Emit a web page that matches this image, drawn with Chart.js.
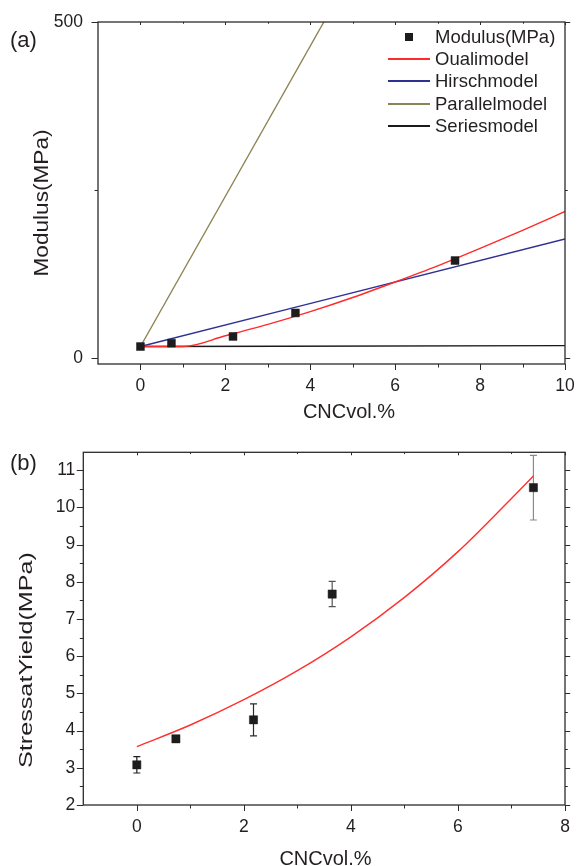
<!DOCTYPE html>
<html>
<head>
<meta charset="utf-8">
<script src="https://cdn.jsdelivr.net/npm/chart.js@4.4.1/dist/chart.umd.min.js"></script>
<style>
  body { margin: 0; background: #fff; }
  #wrap { position: relative; width: 579px; height: 866px; overflow: hidden; }
  #chartA { position: absolute; left: 0; top: 0; }
  #chartB { position: absolute; left: 0; top: 430px; }
  #legend-container {
    position: absolute; left: 388px; top: 25.5px;
    font-family: 'Liberation Sans', Arial, sans-serif; font-size: 18.5px; color: #231f20;
  }
  .legend-item { display: flex; align-items: center; height: 22.3px; }
  .legend-swatch { position: relative; width: 42px; height: 22px; }
  .legend-line { position: absolute; left: 0; right: 0; top: 10px; height: 2px; }
  .legend-square { position: absolute; left: 17px; top: 7px; width: 8px; height: 8px; }
  .legend-label { margin-left: 5px; white-space: nowrap; }
</style>
</head>
<body>
<div id="wrap">
  <canvas id="chartA" width="579" height="430"></canvas>
  <canvas id="chartB" width="579" height="436"></canvas>
  <div id="legend-container"></div>
</div>
<script>
// (a) modulus vs CNC content
const cncA = [0, 0.73, 2.18, 3.65, 7.41];
const modulus = [17, 22, 32, 67, 145];
const oualiX = [0, 1, 2, 3, 4, 5, 6, 7, 8, 9, 10];
const oualiY = [17, 17, 33, 50, 69, 90, 113, 137, 163, 190, 218];
const hirschX = [0, 10];
const hirschY = [17, 177];
const parallelX = [0, 4.32];
const parallelY = [17, 500];
const seriesX = [0, 10];
const seriesY = [17, 18.3];
const xTicksA = [0, 2, 4, 6, 8, 10];
const xMinorA = [1, 3, 5, 7, 9];
const yTicksA = [0, 500];
const yMinorA = [250];

// (b) stress at yield
const cncB = [0, 0.73, 2.18, 3.65, 7.41];
const stress = [3.08, 3.78, 4.29, 7.67, 10.53];
const stressErr = [0.22, 0.04, 0.43, 0.34, 0.87];
const fitX = [0, 1, 2, 3, 4, 5, 6, 7, 7.41];
const fitY = [3.57, 4.15, 4.83, 5.61, 6.52, 7.58, 8.81, 10.24, 10.84];
const xTicksB = [0, 2, 4, 6, 8];
const xMinorB = [1, 3, 5, 7];
const yTicksB = [2, 3, 4, 5, 6, 7, 8, 9, 10, 11];
const yMinorB = [2.5, 3.5, 4.5, 5.5, 6.5, 7.5, 8.5, 9.5, 10.5];

const FONT = "'Liberation Sans', Arial, sans-serif";
const INK = '#231f20';

const pts = (xs, ys) => xs.map((x, i) => ({ x: x, y: ys[i] }));

// frame with Origin-like ticks on all four sides
function makeFrame(xMajor, xMinor, yMajor, yMinor) {
    return {
        id: 'frame',
        afterDraw(chart) {
            const { ctx, chartArea: a, scales: { x, y } } = chart;
            ctx.save();
            ctx.strokeStyle = '#2b2b2b';
            ctx.lineWidth = 1.3;
            ctx.strokeRect(a.left, a.top, a.right - a.left, a.bottom - a.top);
            ctx.lineWidth = 1;
            ctx.beginPath();
            const xt = (vals, len) => vals.forEach(v => {
                const px = Math.round(x.getPixelForValue(v)) + 0.5;
                ctx.moveTo(px, a.bottom); ctx.lineTo(px, a.bottom + len);
                ctx.moveTo(px, a.top); ctx.lineTo(px, a.top + len * 0.5);
            });
            const yt = (vals, len) => vals.forEach(v => {
                const py = Math.round(y.getPixelForValue(v)) + 0.5;
                ctx.moveTo(a.left, py); ctx.lineTo(a.left - len, py);
                ctx.moveTo(a.right, py); ctx.lineTo(a.right + len * 0.8, py);
            });
            xt(xMajor, 6); xt(xMinor, 3.5);
            yt(yMajor, 6.5); yt(yMinor, 3.5);
            ctx.stroke();
            ctx.restore();
        }
    };
}

// axis titles and panel letters (rotated titles are stretched as in the figure)
function makeTexts(items) {
    return {
        id: 'texts',
        afterDraw(chart) {
            const ctx = chart.ctx;
            items.forEach(t => {
                ctx.save();
                ctx.fillStyle = INK;
                ctx.font = t.size + 'px ' + FONT;
                ctx.translate(t.x, t.y);
                if (t.rotate) {
                    ctx.rotate(-Math.PI / 2);
                    const w = ctx.measureText(t.text).width;
                    ctx.scale(t.stretchTo / w, 1);
                }
                ctx.textAlign = t.align || 'center';
                ctx.textBaseline = t.baseline || 'middle';
                ctx.fillText(t.text, 0, 0);
                ctx.restore();
            });
        }
    };
}

function makeErrorBars(errors, colors) {
    return {
        id: 'errorBars',
        beforeDatasetsDraw(chart) {
            const { ctx, scales: { x, y } } = chart;
            const ds = chart.data.datasets[0];
            ctx.save();
            ctx.lineWidth = 1.2;
            ds.data.forEach((p, i) => {
                const e = errors[i];
                const px = x.getPixelForValue(p.x);
                const top = y.getPixelForValue(p.y + e);
                const bot = y.getPixelForValue(p.y - e);
                ctx.strokeStyle = colors[i];
                ctx.beginPath();
                ctx.moveTo(px, top); ctx.lineTo(px, bot);
                ctx.moveTo(px - 3.5, top); ctx.lineTo(px + 3.5, top);
                ctx.moveTo(px - 3.5, bot); ctx.lineTo(px + 3.5, bot);
                ctx.stroke();
            });
            ctx.restore();
        }
    };
}

function axis(min, max, ticks, pad, size) {
    return {
        type: 'linear', min: min, max: max,
        afterBuildTicks: s => { s.ticks = ticks.map(v => ({ value: v })); },
        afterFit: s => {
            if (s.isHorizontal()) { s.height = size; s.paddingLeft = 0; s.paddingRight = 0; }
            else { s.width = size; s.paddingTop = 0; s.paddingBottom = 0; }
        },
        grid: { display: false, drawTicks: false },
        border: { display: false },
        ticks: { autoSkip: false, maxRotation: 0, padding: pad, color: INK, font: { family: FONT, size: 17.5 } }
    };
}

const lineSet = (label, xs, ys, color) => ({
    label: label, data: pts(xs, ys), showLine: true,
    borderColor: color, borderWidth: 1.4, pointRadius: 0,
    cubicInterpolationMode: 'monotone'
});

const dataA = {
    datasets: [
        {
            label: 'Modulus(MPa)', data: pts(cncA, modulus),
            pointStyle: 'rect', pointRadius: 5.6, pointBorderWidth: 0.5,
            backgroundColor: '#1d1d1d', borderColor: '#1d1d1d'
        },
        lineSet('Oualimodel', oualiX, oualiY, '#ff2a2a'),
        lineSet('Hirschmodel', hirschX, hirschY, '#2e3192'),
        lineSet('Parallelmodel', parallelX, parallelY, '#8c8354'),
        lineSet('Seriesmodel', seriesX, seriesY, '#1a1a1a')
    ]
};

const chartA = new Chart(document.getElementById('chartA').getContext('2d'), {
    type: 'scatter',
    data: dataA,
    plugins: [
        makeFrame(xTicksA, xMinorA, yTicksA, yMinorA),
        makeTexts([
            { text: '(a)', x: 10, y: 41, size: 22, align: 'left' },
            { text: 'Modulus(MPa)', x: 42, y: 203, size: 20, rotate: true, stretchTo: 147 },
            { text: 'CNCvol.%', x: 349, y: 418, size: 20, baseline: 'alphabetic' }
        ])
    ],
    options: {
        responsive: false,
        animation: false,
        layout: { padding: { top: 22, right: 14, left: 0, bottom: 0 } },
        scales: {
            x: axis(-1, 10, xTicksA, 12, 66),
            y: axis(-9, 500, yTicksA, 15, 98)
        },
        plugins: {
            legend: { display: false },
            tooltip: { enabled: false }
        }
    }
});

const chartB = new Chart(document.getElementById('chartB').getContext('2d'), {
    type: 'scatter',
    data: {
        datasets: [
            {
                label: 'StressatYield', data: pts(cncB, stress),
                pointStyle: 'rect', pointRadius: 5.8, pointBorderWidth: 0.5,
                backgroundColor: '#1d1d1d', borderColor: '#1d1d1d'
            },
            lineSet('fit', fitX, fitY, '#ff3030')
        ]
    },
    plugins: [
        makeFrame(xTicksB, xMinorB, yTicksB, yMinorB),
        makeErrorBars(stressErr, ['#1e1e1e', '#1e1e1e', '#2a2a2a', '#555555', '#8a8a8a']),
        makeTexts([
            { text: '(b)', x: 10, y: 34, size: 22, align: 'left' },
            { text: 'StressatYield(MPa)', x: 27, y: 230, size: 18.5, rotate: true, stretchTo: 216 },
            { text: 'CNCvol.%', x: 325.5, y: 435, size: 20, baseline: 'alphabetic' }
        ])
    ],
    options: {
        responsive: false,
        animation: false,
        layout: { padding: { top: 22.3, right: 14, left: 0, bottom: 0 } },
        scales: {
            x: axis(-1, 8, xTicksB, 12, 61),
            y: axis(2, 11.48, yTicksB, 8, 83.3)
        },
        plugins: {
            legend: { display: false },
            tooltip: { enabled: false }
        }
    }
});

// Custom legend for panel (a)
function createCustomLegend() {
    const legendContainer = document.getElementById('legend-container');
    legendContainer.innerHTML = '';
    dataA.datasets.forEach((ds, index) => {
        const legendItem = document.createElement('div');
        legendItem.classList.add('legend-item');

        const swatch = document.createElement('span');
        swatch.classList.add('legend-swatch');
        const mark = document.createElement('span');
        if (index === 0) {
            mark.classList.add('legend-square');
            mark.style.backgroundColor = ds.backgroundColor;
        } else {
            mark.classList.add('legend-line');
            mark.style.backgroundColor = ds.borderColor;
        }
        swatch.appendChild(mark);

        const labelSpan = document.createElement('span');
        labelSpan.classList.add('legend-label');
        labelSpan.textContent = ds.label;

        legendItem.appendChild(swatch);
        legendItem.appendChild(labelSpan);
        legendContainer.appendChild(legendItem);
    });
}

createCustomLegend();
</script>
</body>
</html>
